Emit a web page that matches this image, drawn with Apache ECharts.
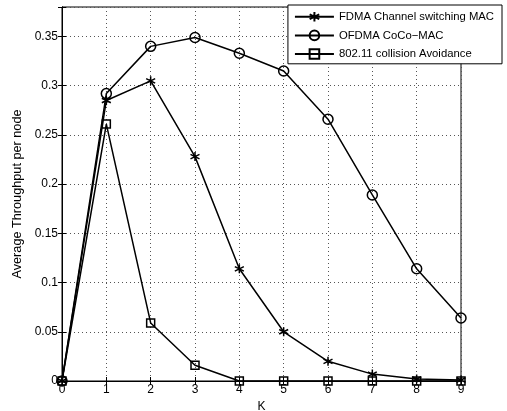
<!DOCTYPE html>
<html><head><meta charset="utf-8">
<script src="https://cdn.jsdelivr.net/npm/echarts@6/dist/echarts.min.js"></script>
<style>html,body{margin:0;padding:0;background:#fff}#c{width:507px;height:411px}</style>
</head><body><div id="c"></div>
<script>
const kValues = [0,1,2,3,4,5,6,7,8,9];
const fdma = [0, 0.285, 0.305, 0.228, 0.114, 0.050, 0.020, 0.007, 0.002, 0.001];
const ofdma = [0, 0.292, 0.340, 0.349, 0.333, 0.315, 0.266, 0.189, 0.114, 0.064];
const csma = [0, 0.261, 0.059, 0.016, 0, 0, 0, 0, 0, 0];
const seriesNames = ['FDMA Channel switching MAC', 'OFDMA CoCo\u2212MAC', '802.11 collision Avoidance'];
const yTicks = ['0','0.05','0.1','0.15','0.2','0.25','0.3','0.35'];

const asterisk = 'path://M0,-10L0,10M-8.66,-5L8.66,5M-8.66,5L8.66,-5M-3,-3L3,3';
const font = 'Liberation Sans, Helvetica, Arial, sans-serif';
const pair = (arr) => arr.map((v,i)=>[kValues[i], v]);

const chart = echarts.init(document.getElementById('c'), null, {renderer:'canvas'});
const gridLine = {show:true, lineStyle:{color:'#555', type:[1,3], width:1}};
chart.setOption({
  animation:false,
  backgroundColor:'#fff',
  grid:{left:62, right:46, top:7, bottom:30, show:true, borderColor:'#000', borderWidth:1,
        containLabel:false, outerBoundsMode:'none'},
  legend:{
    right:5, top:5, orient:'vertical', itemWidth:39, itemHeight:12, itemGap:7,
    padding:[6,8,4,6], borderColor:'#000', borderWidth:1, backgroundColor:'#fff',
    textStyle:{fontFamily:font, fontSize:11.3, color:'#000'},
    data:seriesNames
  },
  xAxis:[{
    type:'value', min:0, max:9, interval:1,
    name:'K', nameLocation:'middle', nameGap:17,
    nameTextStyle:{fontFamily:font, fontSize:12, color:'#000'},
    axisLine:{show:true, lineStyle:{color:'#000'}},
    axisTick:{inside:true, length:4, lineStyle:{color:'#000'}},
    axisLabel:{fontFamily:font, fontSize:12, color:'#000', margin:3},
    splitLine:gridLine
  },{
    type:'value', min:0, max:9, interval:1, position:'top',
    axisLine:{show:true, lineStyle:{color:'#000'}},
    axisTick:{inside:true, length:4, lineStyle:{color:'#000'}},
    axisLabel:{show:false}, splitLine:{show:false}
  }],
  yAxis:[{
    type:'value', min:0, max:0.38, interval:0.05,
    name:'Average Throughput per node', nameLocation:'middle', nameGap:29,
    nameTextStyle:{fontFamily:font, fontSize:12.7, color:'#000'},
    axisLine:{show:true, lineStyle:{color:'#000'}},
    axisTick:{inside:true, length:4, lineStyle:{color:'#000'}},
    axisLabel:{fontFamily:font, fontSize:12, color:'#000', margin:4,
      formatter:(v)=>{const i=Math.round(v/0.05); return Math.abs(v-i*0.05)<1e-6 && i<yTicks.length ? yTicks[i] : '';}},
    splitLine:gridLine
  },{
    type:'value', min:0, max:0.38, interval:0.05, position:'right',
    axisLine:{show:true, lineStyle:{color:'#000'}},
    axisTick:{inside:true, length:4, lineStyle:{color:'#000'}},
    axisLabel:{show:false}, splitLine:{show:false}
  }],
  series:[
    {name:seriesNames[0], type:'line', data:pair(fdma), symbol:asterisk, symbolSize:9,
     lineStyle:{color:'#000', width:1.5}, itemStyle:{color:'#000', borderColor:'#000', borderWidth:1.5}, z:3},
    {name:seriesNames[1], type:'line', data:pair(ofdma), symbol:'circle', symbolSize:10,
     lineStyle:{color:'#000', width:1.5}, itemStyle:{color:'rgba(255,255,255,0)', borderColor:'#000', borderWidth:1.5}, z:2},
    {name:seriesNames[2], type:'line', data:pair(csma), symbol:'rect', symbolSize:8,
     lineStyle:{color:'#000', width:1.5}, itemStyle:{color:'rgba(255,255,255,0)', borderColor:'#000', borderWidth:1.5}, z:4}
  ]
});
</script></body></html>
